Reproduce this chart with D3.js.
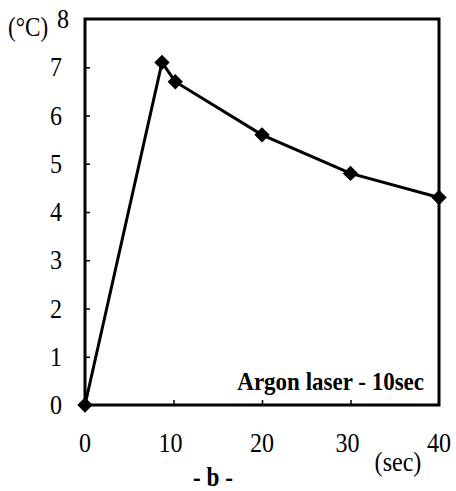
<!DOCTYPE html>
<html>
<head>
<meta charset="utf-8">
<script src="https://cdn.jsdelivr.net/npm/d3@7"></script>
<style>
  body { margin: 0; background: #fff; }
  #chart { width: 456px; height: 491px; }
</style>
</head>
<body>
<div id="chart"></div>
<script>
// data
const times = [0, 8.7, 10.2, 20, 30, 40];
const temps = [0, 7.1, 6.7, 5.6, 4.8, 4.3];
const xTicks = [0, 10, 20, 30, 40];
const yTicks = [0, 1, 2, 3, 4, 5, 6, 7, 8];

const container = d3.select("#chart");
const width = 456, height = 491;
const svg = container.append("svg")
  .attr("width", width).attr("height", height);

const margin = { left: 85, right: 17, top: 19, bottom: 86 };

const xScale = d3.scaleLinear().domain([0, 40]).range([margin.left, width - margin.right]);
const yScale = d3.scaleLinear().domain([0, 8]).range([height - margin.bottom, margin.top]);

const data = times.map((t, i) => ({ t, v: temps[i] }));

// narrow serif text helper
const label = (x, y, str, size, anchor, weight, sx) => {
  svg.append("text")
    .attr("transform", `translate(${x},${y}) scale(${sx || 0.86},1)`)
    .attr("text-anchor", anchor || "middle")
    .style("font-family", '"Liberation Serif", "Times New Roman", serif')
    .style("font-size", size + "px")
    .style("font-weight", weight || "normal")
    .attr("fill", "#000")
    .text(str);
};

// frame
svg.append("rect")
  .attr("x", xScale(0)).attr("y", yScale(8))
  .attr("width", xScale(40) - xScale(0))
  .attr("height", yScale(0) - yScale(8))
  .attr("fill", "none").attr("stroke", "#000").attr("stroke-width", 3);

// y axis: inner ticks, labels on left
const yAxis = svg.append("g")
  .attr("transform", `translate(${xScale(0)},0)`)
  .call(d3.axisRight(yScale).tickValues(yTicks.slice(1, 8)).tickSize(5).tickFormat(""));
yAxis.select(".domain").remove();
yAxis.selectAll("line").attr("stroke-width", 1.5);

yTicks.forEach(d => label(d === 8 ? 63 : 56, yScale(d) + 9, d, 28));

// x axis: inner ticks, labels below
const xAxis = svg.append("g")
  .attr("transform", `translate(0,${yScale(0)})`)
  .call(d3.axisTop(xScale).tickValues([10, 20, 30]).tickSize(5).tickFormat(""));
xAxis.select(".domain").remove();
xAxis.selectAll("line").attr("stroke-width", 1.5);

xTicks.forEach(d => label(xScale(d) - (d === 10 || d === 30 ? 3 : 0), 452, d, 28));

// line
const line = d3.line().x(d => xScale(d.t)).y(d => yScale(d.v));
svg.append("path")
  .datum(data)
  .attr("d", line)
  .attr("fill", "none")
  .attr("stroke", "#000")
  .attr("stroke-width", 3);

// diamond markers
svg.append("g").selectAll("path")
  .data(data)
  .enter().append("path")
  .attr("transform", d => `translate(${xScale(d.t)},${yScale(d.v)})`)
  .attr("d", d3.symbol(d3.symbolDiamond2, 150))
  .attr("fill", "#000");

// labels
label(424, 390, "Argon laser - 10sec", 25, "end", "bold", 0.92);
label(8, 36, "(°C)", 27, "start");
label(398, 471, "(sec)", 28, "middle");
label(213, 486, "- b -", 27, "middle", "bold");
</script>
</body>
</html>
